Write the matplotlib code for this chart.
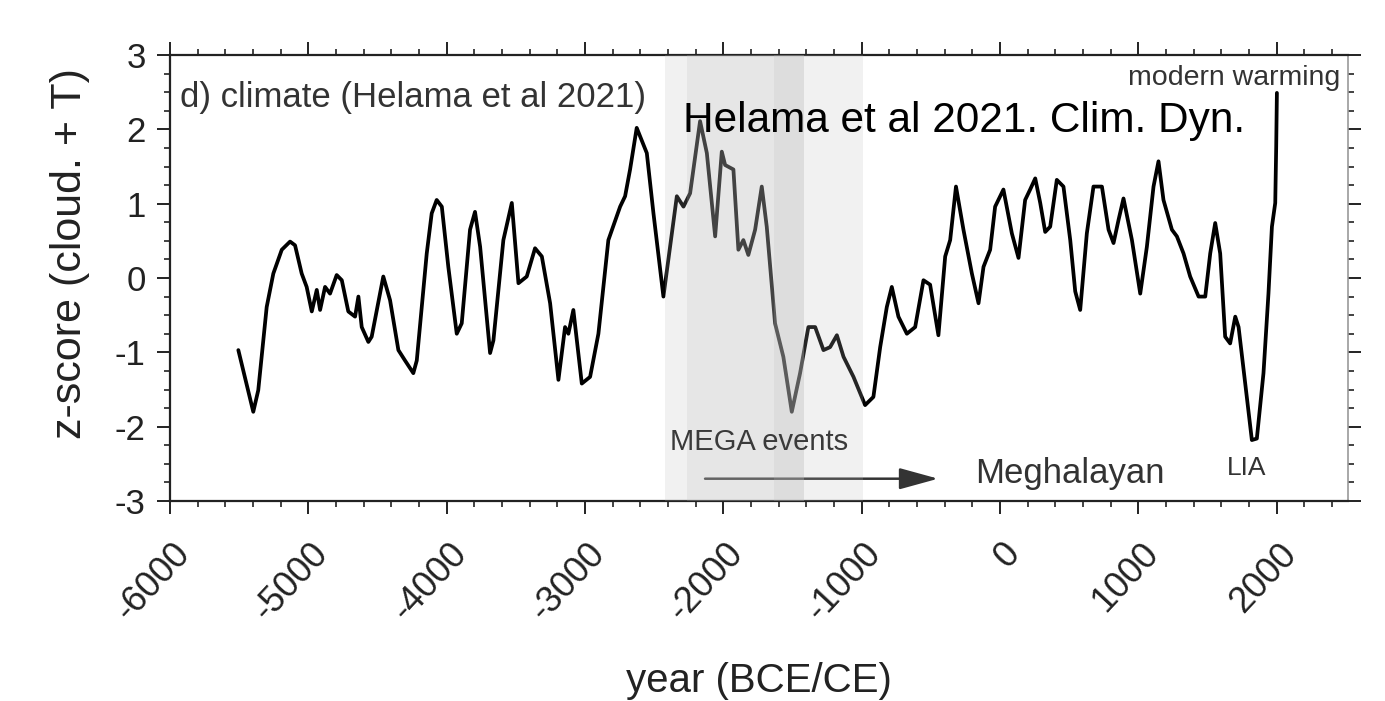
import matplotlib
matplotlib.use('Agg')
import matplotlib.pyplot as plt
import matplotlib.transforms as mtrans
from matplotlib.ticker import MultipleLocator, FixedLocator

# ---------------- data ----------------
years = [-5506, -5398, -5362, -5301, -5253, -5192, -5132, -5096, -5048, -5012,
         -4975, -4939, -4915, -4879, -4843, -4795, -4758, -4711, -4662, -4638,
         -4614, -4566, -4542, -4458, -4409, -4349, -4301, -4241, -4216, -4144,
         -4108, -4072, -4035, -3988, -3927, -3891, -3831, -3795, -3758, -3686,
         -3662, -3590, -3529, -3481, -3421, -3361, -3312, -3252, -3192, -3144,
         -3120, -3084, -3023, -2963, -2903, -2831, -2746, -2710, -2674, -2626,
         -2553, -2505, -2433, -2336, -2288, -2240, -2168, -2119, -2059, -2011,
         -1987, -1927, -1891, -1855, -1819, -1770, -1722, -1686, -1626, -1566,
         -1505, -1445, -1385, -1336, -1276, -1228, -1179, -1131, -1059, -975,
         -915, -866, -818, -782, -734, -673, -613, -553, -505, -445,
         -396, -360, -318, -264, -203, -155, -119, -71, -35, 25,
         86, 134, 182, 218, 255, 291, 327, 363, 411, 459,
         508, 544, 580, 628, 676, 737, 785, 821, 857, 893,
         954, 1014, 1062, 1110, 1146, 1182, 1243, 1279, 1327, 1375,
         1436, 1484, 1520, 1556, 1592, 1628, 1664, 1701, 1725, 1773,
         1821, 1857, 1905, 1941, 1966, 1990, 1997, 2002]
zscore = [-0.97, -1.80, -1.51, -0.39, 0.06, 0.38, 0.49, 0.44, 0.06, -0.12,
          -0.45, -0.16, -0.43, -0.12, -0.21, 0.04, -0.03, -0.45, -0.52, -0.25,
          -0.66, -0.86, -0.79, 0.02, -0.30, -0.97, -1.11, -1.28, -1.11, 0.33,
          0.87, 1.05, 0.96, 0.15, -0.75, -0.61, 0.65, 0.89, 0.42, -1.01,
          -0.84, 0.51, 1.01, -0.07, 0.02, 0.40, 0.29, -0.34, -1.37, -0.66,
          -0.75, -0.43, -1.42, -1.33, -0.75, 0.51, 0.96, 1.10, 1.46, 2.02,
          1.68, 0.87, -0.25, 1.10, 0.96, 1.14, 2.11, 1.68, 0.56, 1.70,
          1.52, 1.46, 0.38, 0.51, 0.31, 0.65, 1.23, 0.69, -0.61, -1.06,
          -1.80, -1.28, -0.66, -0.66, -0.97, -0.93, -0.77, -1.06, -1.33, -1.71,
          -1.60, -0.93, -0.39, -0.12, -0.52, -0.75, -0.66, -0.03, -0.09, -0.77,
          0.29, 0.51, 1.23, 0.65, 0.06, -0.34, 0.15, 0.38, 0.96, 1.19,
          0.60, 0.27, 1.05, 1.19, 1.34, 1.01, 0.62, 0.69, 1.32, 1.23,
          0.51, -0.18, -0.43, 0.60, 1.23, 1.23, 0.65, 0.47, 0.78, 1.07,
          0.51, -0.21, 0.42, 1.23, 1.57, 1.05, 0.65, 0.56, 0.33, 0.02,
          -0.25, -0.25, 0.33, 0.74, 0.33, -0.79, -0.88, -0.52, -0.66, -1.42,
          -2.18, -2.16, -1.28, -0.21, 0.69, 1.01, 1.77, 2.49]

band_start = [-2420, -2265, -1630]
band_end = [-990, -1420, -1420]

xtick_values = [-6000, -5000, -4000, -3000, -2000, -1000, 0, 1000, 2000]
xtick_labels = ['-6000', '-5000', '-4000', '-3000', '-2000', '-1000', '0', '1000', '2000']
ytick_values = [-3, -2, -1, 0, 1, 2, 3]
ytick_labels = ['-3', '-2', '-1', '0', '1', '2', '3']

arrow_from = (-2132, -2.70)
arrow_to = (-447, -2.70)

# ---------------- figure ----------------
plt.rcParams['font.family'] = ['Liberation Sans', 'DejaVu Sans']
W, H = 1385, 701
fig = plt.figure(figsize=(W / 100, H / 100), dpi=100)
ax = fig.add_axes([170 / W, 1 - 501 / H, 1178 / W, 446 / H])

ax.plot(years, zscore, color='black', lw=2.7, zorder=2,
        solid_joinstyle='round', solid_capstyle='round')

for s, e in zip(band_start, band_end):
    ax.axvspan(s, e, color='#bcbcbc', alpha=0.2, lw=0, zorder=3)

ax.set_xlim(-6000, 2516)
ax.set_ylim(-3, 3)

ax.xaxis.set_major_locator(FixedLocator(xtick_values))
ax.set_xticklabels(xtick_labels)
ax.xaxis.set_minor_locator(MultipleLocator(200))
ax.yaxis.set_major_locator(FixedLocator(ytick_values))
ax.set_yticklabels(ytick_labels)
ax.yaxis.set_minor_locator(MultipleLocator(0.25))

ax.tick_params(axis='both', which='major', direction='out', length=9.5, width=1.4,
               color='#222222', labelcolor='#222222')
ax.tick_params(axis='both', which='minor', direction='out', length=4.5, width=1.2,
               color='#222222')
ax.tick_params(axis='x', which='both', top=True, bottom=True)
ax.tick_params(axis='y', which='both', left=True, right=True)
ax.tick_params(axis='x', which='major', pad=16, labelsize=26)
ax.tick_params(axis='y', which='major', pad=8, labelsize=25)

shift = mtrans.ScaledTranslation(27 / 100, 0, fig.dpi_scale_trans)
for lab in ax.get_xticklabels():
    lab.set_rotation(47)
    lab.set_ha('right')
    lab.set_va('top')
    lab.set_transform(lab.get_transform() + shift)

for t in ax.yaxis.get_major_ticks() + ax.yaxis.get_minor_ticks():
    t.tick2line.set_color('#9a9a9a')

for side in ['left', 'bottom', 'top']:
    ax.spines[side].set_linewidth(1.6)
    ax.spines[side].set_color('#222222')
ax.spines['right'].set_linewidth(1.2)
ax.spines['right'].set_color('#9a9a9a')

# annotations
ax.text(0.0085, 0.905, 'd) climate (Helama et al 2021)', transform=ax.transAxes,
        fontsize=25, color='#333333', ha='left', va='center', zorder=5)
ax.text(0.4355, 0.827, 'Helama et al 2021. Clim. Dyn.', transform=ax.transAxes,
        fontsize=30.5, color='black', ha='left', va='baseline', zorder=6)
ax.text(0.9932, 0.933, 'modern warming', transform=ax.transAxes,
        fontsize=20.5, color='#333333', ha='right', va='baseline', zorder=5)
ax.text(0.4244, 0.1143, 'MEGA events', transform=ax.transAxes,
        fontsize=21, color='#3a3a3a', ha='left', va='baseline', zorder=5)
ax.text(0.6834, 0.0397, 'Meghalayan', transform=ax.transAxes,
        fontsize=25, color='#333333', ha='left', va='baseline', zorder=5)
ax.text(0.897, 0.0583, 'LIA', transform=ax.transAxes,
        fontsize=19, color='#333333', ha='left', va='baseline', zorder=5)

ax.annotate('', xy=arrow_to, xytext=arrow_from,
            arrowprops=dict(arrowstyle='-|>,head_length=0.8,head_width=0.22',
                            mutation_scale=30, color='#333333', lw=1.8,
                            shrinkA=0, shrinkB=0), zorder=2)

fig.text(70 / W, 1 - 254 / H, 'z-score (cloud. + T)', rotation=90, fontsize=31,
         color='#222222', ha='center', va='center')
fig.text(759 / W, 1 - 692 / H, 'year (BCE/CE)', fontsize=29,
         color='#222222', ha='center', va='baseline')

fig.savefig('out.png', dpi=100, facecolor='white')
